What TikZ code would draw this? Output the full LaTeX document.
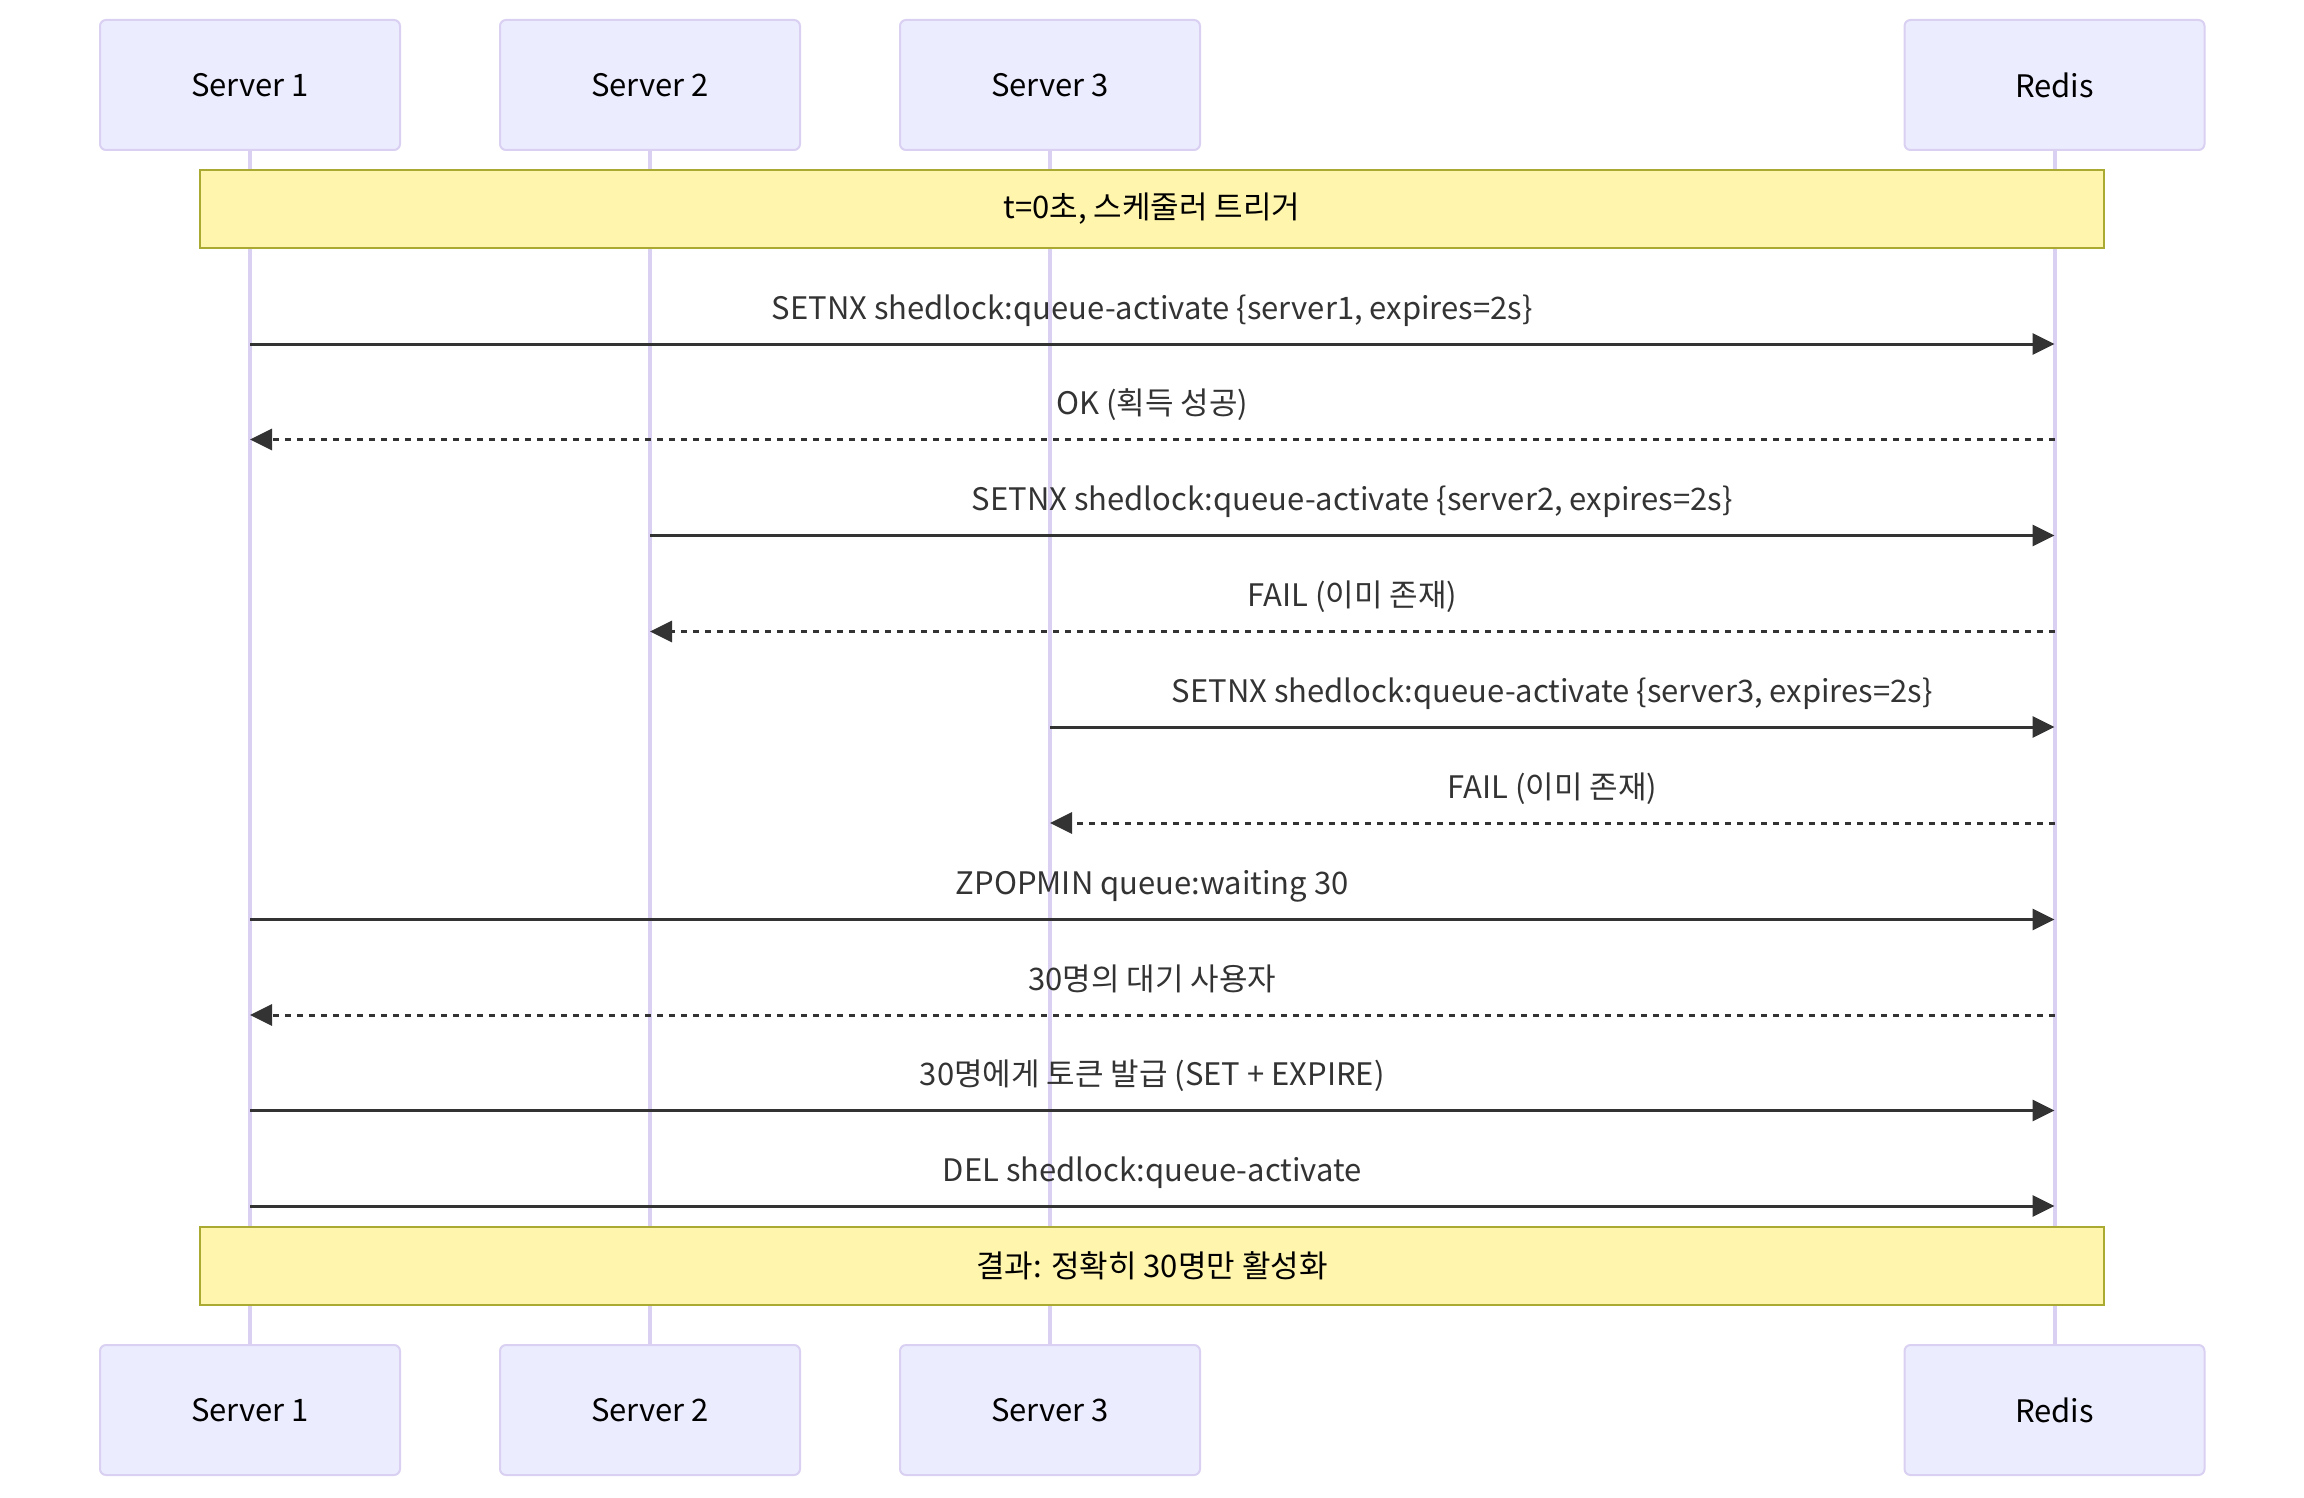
\documentclass[tikz,border=0pt]{standalone}
\usepackage{fontspec}
\setmainfont{Noto Sans CJK KR}
\usetikzlibrary{arrows.meta}
\definecolor{actfill}{HTML}{ECECFF}
\definecolor{actline}{HTML}{D9D0F2}
\definecolor{notefill}{HTML}{FFF5AD}
\definecolor{noteline}{HTML}{AAAA33}
\definecolor{msgcol}{HTML}{333333}
\newcommand{\bigtxt}{\fontsize{31}{37}\selectfont}
\begin{document}
\begin{tikzpicture}[x=1pt,y=-1pt,
  actor/.style={draw=actline, fill=actfill, line width=2pt, rounded corners=6pt,
    minimum width=300pt, minimum height=130pt, inner sep=0pt, font=\bigtxt, text=black},
  life/.style={draw=actline, line width=4pt},
  notebox/.style={draw=noteline, fill=notefill, line width=2pt, minimum width=1904pt,
    minimum height=78pt, inner sep=0pt, font=\bigtxt, text=black},
  msgline/.style={draw=msgcol, line width=3pt, -{Triangle[length=22pt,width=21pt]}},
  reply/.style={msgline, dash pattern=on 6pt off 6pt},
  lbl/.style={font=\bigtxt, text=msgcol, inner sep=0pt, anchor=base, yshift=25pt}
]
\useasboundingbox (0,0) rectangle (2304,1498);

% actors top
\node[actor] (a1t) at (250,85) {Server 1};
\node[actor] (a2t) at (650,85) {Server 2};
\node[actor] (a3t) at (1050,85) {Server 3};
\node[actor] (a4t) at (2054.5,85) {Redis};
% actors bottom
\node[actor] (a1b) at (250,1410) {Server 1};
\node[actor] (a2b) at (650,1410) {Server 2};
\node[actor] (a3b) at (1050,1410) {Server 3};
\node[actor] (a4b) at (2054.5,1410) {Redis};

% lifelines
\draw[life] (a1t.south) -- (a1b.north);
\draw[life] (a2t.south) -- (a2b.north);
\draw[life] (a3t.south) -- (a3b.north);
\draw[life] (a4t.south) -- (a4b.north);

% notes
\node[notebox] (n1) at (1152,209) {t=0초, 스케줄러 트리거};
\node[notebox] (n2) at (1152,1266) {결과: 정확히 30명만 활성화};

% message rows
\coordinate (r1) at (0,344);
\coordinate (r2) at (0,439.5);
\coordinate (r3) at (0,535.5);
\coordinate (r4) at (0,631.5);
\coordinate (r5) at (0,727);
\coordinate (r6) at (0,823);
\coordinate (r7) at (0,919.5);
\coordinate (r8) at (0,1015);
\coordinate (r9) at (0,1110.5);
\coordinate (r10) at (0,1206);

\draw[msgline] (a1t |- r1) -- (a4t |- r1) node[lbl, midway] {SETNX shedlock:queue-activate \{server1, expires=2s\}};
\draw[reply] (a4t |- r2) -- (a1t |- r2) node[lbl, midway] {OK (획득 성공)};
\draw[msgline] (a2t |- r3) -- (a4t |- r3) node[lbl, midway] {SETNX shedlock:queue-activate \{server2, expires=2s\}};
\draw[reply] (a4t |- r4) -- (a2t |- r4) node[lbl, midway] {FAIL (이미 존재)};
\draw[msgline] (a3t |- r5) -- (a4t |- r5) node[lbl, midway] {SETNX shedlock:queue-activate \{server3, expires=2s\}};
\draw[reply] (a4t |- r6) -- (a3t |- r6) node[lbl, midway] {FAIL (이미 존재)};
\draw[msgline] (a1t |- r7) -- (a4t |- r7) node[lbl, midway] {ZPOPMIN queue:waiting 30};
\draw[reply] (a4t |- r8) -- (a1t |- r8) node[lbl, midway] {30명의 대기 사용자};
\draw[msgline] (a1t |- r9) -- (a4t |- r9) node[lbl, midway] {30명에게 토큰 발급 (SET + EXPIRE)};
\draw[msgline] (a1t |- r10) -- (a4t |- r10) node[lbl, midway] {DEL shedlock:queue-activate};
\end{tikzpicture}
\end{document}
